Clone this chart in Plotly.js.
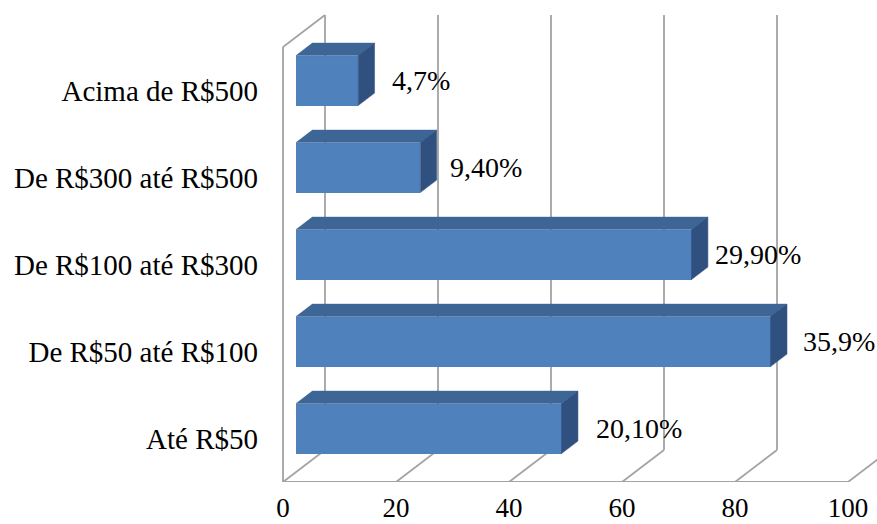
<!DOCTYPE html>
<html>
<head>
<meta charset="utf-8">
<script src="https://cdn.plot.ly/plotly-3.0.1.min.js"></script>
<style>
  html, body { margin: 0; padding: 0; background: #ffffff; }
  #chart { width: 877px; height: 524px; }
</style>
</head>
<body>
<div id="chart"></div>
<script>
// Spending brackets (bottom to top) with respondent counts and their shares
const categories = ['Até R$50', 'De R$50 até R$100', 'De R$100 até R$300', 'De R$300 até R$500', 'Acima de R$500'];
const counts = [47, 84, 70, 22, 11];
const shareLabels = ['20,10%', '35,9%', '29,90%', '9,40%', '4,7%'];
const xTicks = [0, 20, 40, 60, 80, 100];

// ---- geometry of the oblique 3-D box (pixels) ----
const W = 877, H = 524;
const FLOOR_PX = 482;          // front edge of the floor
const ORIGIN_PX = 283;         // x = 0 on the front plane
const PX_PER_UNIT = 5.65;      // horizontal scale
const CAT_PX = 87;             // height of one category band
const DEPTH_DX_PX = 42, DEPTH_DY_PX = 32;

// converted to data units
const DX = DEPTH_DX_PX / PX_PER_UNIT;
const DY = DEPTH_DY_PX / CAT_PX;
const D1 = 0.31, D2 = 0.70;    // bar front / back depth fractions
const BAR_W = 50 / CAT_PX;
const labelGap = [16, 14, 5, 11, 15];

const xRange = [-ORIGIN_PX / PX_PER_UNIT, (W - ORIGIN_PX) / PX_PER_UNIT];
const yRange = [-0.5, -0.5 + FLOOR_PX / CAT_PX];
const yTop = categories.length - 0.5;
const xMax = xTicks[xTicks.length - 1];

const FRONT = '#4f81bd', TOP = '#3d6596', SIDE = '#30517f';
const GRID = '#a3a3a3';
const FONT = 'Liberation Serif, DejaVu Serif';

const traces = [];

// front faces
traces.push({
  type: 'bar', orientation: 'h',
  y: categories.map((c, i) => i + D1 * DY),
  x: counts,
  base: counts.map(() => D1 * DX),
  width: BAR_W,
  marker: { color: FRONT, line: { width: 0 } },
  hoverinfo: 'skip', showlegend: false
});

// top and side faces of every box
const ddx = (D2 - D1) * DX, ddy = (D2 - D1) * DY;
counts.forEach((v, i) => {
  const x0 = D1 * DX, x1 = x0 + v;
  const yc = i + D1 * DY, yt = yc + BAR_W / 2, yb = yc - BAR_W / 2;
  traces.push({
    type: 'scatter', mode: 'lines', fill: 'toself', fillcolor: TOP,
    x: [x0, x1, x1 + ddx, x0 + ddx, x0],
    y: [yt, yt, yt + ddy, yt + ddy, yt],
    line: { color: TOP, width: 0.5 }, hoverinfo: 'skip', showlegend: false
  });
  traces.push({
    type: 'scatter', mode: 'lines', fill: 'toself', fillcolor: SIDE,
    x: [x1, x1, x1 + ddx, x1 + ddx, x1],
    y: [yb, yt, yt + ddy, yb + ddy, yb],
    line: { color: SIDE, width: 0.5 }, hoverinfo: 'skip', showlegend: false
  });
});

// walls and floor
const shapes = [];
const seg = (xa, ya, xb, yb) => shapes.push({
  type: 'line', xref: 'x', yref: 'y', layer: 'below',
  x0: xa, y0: ya, x1: xb, y1: yb,
  line: { color: GRID, width: 1.8 }
});
seg(0, -0.5, 0, yTop);                       // left wall, front edge
seg(0, yTop, DX, yTop + DY);                 // left wall, top edge
seg(0, -0.5, xMax, -0.5);                    // floor, front edge
xTicks.forEach(t => {
  seg(t + DX, -0.5 + DY, t + DX, yTop + DY); // back wall gridlines
  seg(t, -0.5, t + DX, -0.5 + DY);           // floor lines
});

// value labels beside each box
const annotations = counts.map((v, i) => ({
  x: D1 * DX + v + ddx, y: i + D1 * DY,
  xref: 'x', yref: 'y', xanchor: 'left', yanchor: 'middle',
  xshift: labelGap[i],
  text: shareLabels[i], showarrow: false,
  font: { family: FONT, size: 28, color: '#000000' }
}));

const layout = {
  width: W, height: H,
  margin: { l: 0, r: 0, t: 0, b: H - FLOOR_PX, pad: 0 },
  paper_bgcolor: '#ffffff', plot_bgcolor: '#ffffff',
  showlegend: false,
  font: { family: FONT, size: 28, color: '#000000' },
  xaxis: {
    range: xRange, fixedrange: true,
    tickvals: xTicks, ticktext: xTicks.map(String),
    showgrid: false, zeroline: false, showline: false, ticks: '',
    ticklabelstandoff: 7,
    tickfont: { family: FONT, size: 27, color: '#000000' }
  },
  yaxis: {
    range: yRange, fixedrange: true,
    anchor: 'free', position: ORIGIN_PX / W,
    tickvals: categories.map((c, i) => i), ticktext: categories,
    showgrid: false, zeroline: false, showline: false, ticks: '',
    ticklabelstandoff: 25,
    tickfont: { family: FONT, size: 29, color: '#000000' }
  },
  shapes: shapes,
  annotations: annotations,
  bargap: 0
};

Plotly.newPlot('chart', traces, layout, { displayModeBar: false, staticPlot: true });
</script>
</body>
</html>
